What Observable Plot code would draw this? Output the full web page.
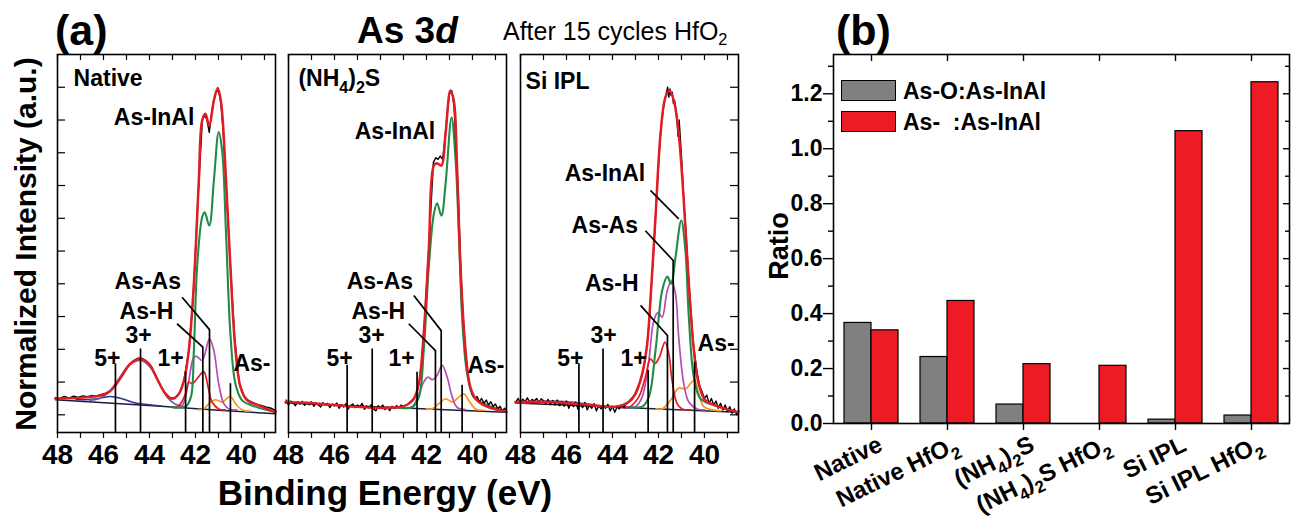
<!DOCTYPE html>
<html><head><meta charset="utf-8">
<script src="https://cdn.jsdelivr.net/npm/d3@7"></script>
<script src="https://cdn.jsdelivr.net/npm/@observablehq/plot@0.6"></script>
<style>
body{margin:0;background:#fff;}
#root{position:relative;width:1291px;height:519px;overflow:hidden;font-family:"Liberation Sans",Arial,Helvetica,sans-serif;color:#000;}
.abs{position:absolute;white-space:pre;line-height:1;}
.abs sub{font-size:0.65em;vertical-align:-0.3em;line-height:0;}
.sw{position:absolute;box-sizing:border-box;border:1.5px solid #000;}
</style></head><body><div id="root"></div>
<script>
// ---------------- DATA: panel (a) ----------------
const energyTicks = [48,47,46,45,44,43,42,41,40,39];
const energyLabels = [48,46,44,42,40];
const intensityTicks = [0,0.1,0.2,0.3,0.4,0.5,0.6,0.7,0.8,0.9,1.0];

// Native
const nativeRaw = [[48.1,0.052],[47.9,0.05],[47.7,0.056],[47.5,0.051],[47.3,0.057],[47.1,0.053],[46.9,0.058],[46.7,0.055],[46.5,0.059],[46.3,0.057],[46.1,0.062],[45.9,0.066],[45.7,0.074],[45.5,0.088],[45.3,0.108],[45.1,0.13],[44.9,0.152],[44.7,0.165],[44.5,0.173],[44.3,0.172],[44.1,0.162],[43.9,0.145],[43.7,0.116],[43.5,0.085],[43.3,0.064],[43.1,0.052],[42.9,0.05],[42.7,0.066],[42.5,0.105],[42.3,0.19],[42.1,0.36],[41.9,0.65],[41.7,0.9],[41.6,0.915],[41.5,0.9],[41.4,0.862],[41.3,0.92],[41.2,0.96],[41.1,0.985],[41.0,0.99],[40.9,0.955],[40.8,0.87],[40.7,0.75],[40.5,0.48],[40.3,0.24],[40.1,0.1],[39.9,0.058],[39.7,0.044],[39.5,0.037],[39.3,0.031],[39.1,0.028],[38.9,0.023],[38.7,0.02],[38.5,0.013]];
const nativeEnvelope = [[48.09,0.049],[46.64,0.054],[45.9,0.064],[45.55,0.084],[45.19,0.12],[44.83,0.156],[44.39,0.171],[44.03,0.156],[43.67,0.11],[43.3,0.064],[43.0,0.049],[42.72,0.064],[42.5,0.105],[42.29,0.196],[42.07,0.40],[41.86,0.705],[41.71,0.898],[41.57,0.919],[41.4,0.883],[41.2,0.96],[41.03,0.998],[40.88,0.95],[40.7,0.756],[40.48,0.45],[40.26,0.196],[40.04,0.084],[39.75,0.044],[39.25,0.029],[38.52,0.008]];
const nativeInAl = [[43.0,0.023],[42.43,0.025],[42.2,0.054],[42.07,0.196],[41.93,0.45],[41.71,0.603],[41.6,0.618],[41.4,0.578],[41.2,0.715],[40.99,0.863],[40.84,0.806],[40.67,0.552],[40.48,0.247],[40.26,0.094],[39.97,0.044],[39.39,0.025],[38.52,0.008]];
const nativeAsAs = [[42.9,0.022],[42.58,0.028],[42.29,0.105],[42.07,0.176],[41.93,0.178],[41.71,0.166],[41.39,0.232],[41.2,0.196],[40.99,0.095],[40.77,0.034],[40.55,0.018],[40.2,0.015]];
const nativeAsH = [[42.95,0.022],[42.72,0.028],[42.43,0.064],[42.29,0.1],[42.14,0.095],[41.93,0.11],[41.64,0.132],[41.45,0.084],[41.28,0.039],[40.99,0.018],[40.7,0.015]];
const nativeAsMinus = [[41.9,0.016],[41.64,0.018],[41.35,0.039],[41.13,0.046],[40.84,0.039],[40.48,0.056],[40.26,0.034],[39.97,0.015],[39.6,0.011]];
const native3p = [[46.6,0.044],[46.2,0.049],[45.77,0.069],[45.33,0.11],[44.9,0.151],[44.39,0.166],[43.96,0.145],[43.59,0.1],[43.23,0.054],[42.87,0.032],[42.5,0.025]];
const native5p = [[47.2,0.046],[46.78,0.046],[46.2,0.05],[45.7,0.056],[45.19,0.049],[44.61,0.036],[44.03,0.031],[43.5,0.027]];
const nativeBg = [[48.09,0.046],[43.5,0.026],[41.0,0.014],[38.52,0.003]];
const nativeMarkers = [[45.48,0.155],[44.39,0.201],[42.43,0.13],[41.68,0.207],[41.39,0.26],[40.48,0.095]];
const nativeLeaders = [[42.8,0.278,41.68,0.207],[42.58,0.359,41.39,0.26]];
const nativeLabels = [["Native",47.3,1.005],["As-InAl",45.55,0.886],["As-As",45.52,0.383],["As-H",45.3,0.294],["3+",45.04,0.218],["5+",46.4,0.15],["1+",43.65,0.15],["As-",40.35,0.135]];

// (NH4)2S
const nh4Raw = [[48.1,0.045],[48.0,0.03],[47.9,0.042],[47.8,0.036],[47.7,0.028],[47.6,0.04],[47.5,0.033],[47.4,0.041],[47.3,0.029],[47.2,0.038],[47.1,0.031],[47.0,0.04],[46.9,0.026],[46.8,0.036],[46.7,0.03],[46.6,0.024],[46.5,0.037],[46.4,0.03],[46.3,0.035],[46.2,0.022],[46.1,0.033],[46.0,0.027],[45.9,0.036],[45.8,0.02],[45.7,0.031],[45.6,0.024],[45.5,0.034],[45.4,0.018],[45.3,0.028],[45.2,0.033],[45.1,0.022],[45.0,0.03],[44.9,0.024],[44.8,0.035],[44.7,0.017],[44.6,0.027],[44.5,0.021],[44.4,0.031],[44.3,0.018],[44.2,0.012],[44.1,0.028],[44.0,0.02],[43.9,0.03],[43.8,0.016],[43.7,0.024],[43.6,0.013],[43.5,0.026],[43.4,0.019],[43.3,0.028],[43.2,0.022],[43.1,0.03],[43.0,0.026],[42.9,0.03],[42.8,0.032],[42.7,0.04],[42.6,0.045],[42.5,0.055],[42.4,0.075],[42.3,0.11],[42.2,0.17],[42.1,0.27],[42.0,0.39],[41.9,0.51],[41.8,0.64],[41.7,0.77],[41.6,0.785],[41.5,0.78],[41.4,0.79],[41.3,0.78],[41.2,0.84],[41.1,0.92],[41.0,0.98],[40.9,0.99],[40.8,0.94],[40.7,0.8],[40.6,0.64],[40.5,0.43],[40.4,0.29],[40.3,0.19],[40.2,0.12],[40.1,0.085],[40.0,0.06],[39.9,0.05],[39.8,0.056],[39.7,0.04],[39.6,0.05],[39.5,0.035],[39.4,0.045],[39.3,0.03],[39.2,0.04],[39.1,0.025],[39.0,0.033],[38.9,0.018],[38.8,0.026],[38.7,0.012],[38.6,0.02],[38.5,0.008]];
const nh4Envelope = [[48.13,0.039],[46.68,0.034],[45.23,0.025],[43.78,0.021],[43.06,0.025],[42.77,0.034],[42.55,0.049],[42.33,0.095],[42.12,0.247],[41.9,0.502],[41.68,0.761],[41.54,0.768],[41.35,0.761],[41.17,0.858],[40.96,0.99],[40.81,0.959],[40.67,0.756],[40.52,0.451],[40.3,0.196],[40.09,0.084],[39.8,0.044],[39.29,0.023],[38.57,0.011]];
const nh4InAl = [[43.2,0.022],[42.62,0.023],[42.33,0.054],[42.12,0.196],[41.9,0.451],[41.68,0.613],[41.54,0.646],[41.35,0.608],[41.17,0.705],[40.91,0.908],[40.74,0.786],[40.59,0.552],[40.45,0.298],[40.23,0.125],[39.94,0.054],[39.43,0.032],[38.57,0.011]];
const nh4AsAs = [[43.0,0.022],[42.62,0.025],[42.33,0.064],[42.12,0.1],[41.93,0.115],[41.75,0.107],[41.54,0.12],[41.32,0.151],[41.1,0.115],[40.88,0.054],[40.67,0.023],[40.3,0.016]];
const nh4AsMinus = [[42.0,0.019],[41.75,0.018],[41.46,0.034],[41.17,0.049],[40.88,0.039],[40.67,0.049],[40.38,0.064],[40.16,0.044],[39.87,0.018],[39.5,0.014]];
const nh4Bg = [[48.13,0.036],[38.57,0.008]];
const nh4Markers = [[45.45,0.151],[44.36,0.201],[42.41,0.13],[41.61,0.196],[41.36,0.257],[40.45,0.09]];
const nh4Leaders = [[42.77,0.278,41.61,0.196],[42.55,0.364,41.36,0.257]];
const nh4Labels = [["(NH_4)_2S",47.57,1.005],["As-InAl",45.12,0.843],["As-As",45.47,0.383],["As-H",45.26,0.294],["3+",44.96,0.218],["5+",46.35,0.15],["1+",43.65,0.15],["As-",40.22,0.129]];

// Si IPL
const siplRaw = [[48.2,0.04],[48.1,0.05],[48.0,0.035],[47.9,0.048],[47.8,0.04],[47.7,0.052],[47.6,0.038],[47.5,0.047],[47.4,0.042],[47.3,0.05],[47.2,0.037],[47.1,0.049],[47.0,0.043],[46.9,0.034],[46.8,0.047],[46.7,0.031],[46.6,0.044],[46.5,0.03],[46.4,0.045],[46.3,0.028],[46.2,0.04],[46.1,0.026],[46.0,0.042],[45.9,0.02],[45.8,0.036],[45.7,0.025],[45.6,0.039],[45.5,0.017],[45.4,0.033],[45.3,0.022],[45.2,0.038],[45.1,0.015],[45.0,0.03],[44.9,0.02],[44.8,0.034],[44.7,0.012],[44.6,0.028],[44.5,0.018],[44.4,0.03],[44.3,0.02],[44.2,0.032],[44.1,0.012],[44.0,0.026],[43.9,0.008],[43.8,0.024],[43.7,0.018],[43.6,0.03],[43.5,0.022],[43.4,0.035],[43.3,0.04],[43.2,0.048],[43.1,0.055],[43.0,0.068],[42.9,0.085],[42.8,0.1],[42.7,0.125],[42.6,0.16],[42.5,0.21],[42.4,0.29],[42.3,0.4],[42.2,0.51],[42.1,0.64],[42.0,0.76],[41.9,0.87],[41.8,0.93],[41.7,0.97],[41.6,1.0],[41.55,0.97],[41.5,0.995],[41.45,0.975],[41.4,0.985],[41.35,0.95],[41.3,0.96],[41.2,0.91],[41.15,0.85],[41.1,0.9],[41.0,0.79],[40.9,0.66],[40.8,0.55],[40.7,0.43],[40.6,0.33],[40.5,0.23],[40.4,0.17],[40.3,0.12],[40.2,0.085],[40.1,0.07],[40.0,0.05],[39.9,0.06],[39.8,0.035],[39.7,0.05],[39.6,0.03],[39.5,0.042],[39.4,0.02],[39.3,0.035],[39.2,0.015],[39.1,0.03],[39.0,0.01],[38.9,0.025],[38.8,0.005],[38.7,0.018],[38.6,0.0],[38.5,0.012]];
const siplEnvelope = [[48.22,0.039],[46.77,0.039],[45.32,0.032],[43.87,0.025],[43.29,0.039],[43.0,0.064],[42.71,0.125],[42.49,0.217],[42.35,0.349],[42.13,0.603],[41.91,0.858],[41.7,0.969],[41.52,0.99],[41.33,0.959],[41.12,0.858],[40.9,0.654],[40.68,0.4],[40.46,0.196],[40.25,0.095],[39.96,0.044],[39.38,0.025],[38.54,0.008]];
const siplInAl = [[43.2,0.024],[42.71,0.025],[42.42,0.054],[42.13,0.196],[41.84,0.379],[41.62,0.422],[41.45,0.4],[41.26,0.481],[41.01,0.593],[40.83,0.502],[40.68,0.298],[40.46,0.115],[40.17,0.049],[39.52,0.028],[38.54,0.008]];
const siplAsAs = [[43.4,0.024],[43.0,0.025],[42.71,0.054],[42.42,0.166],[42.2,0.288],[42.01,0.313],[41.84,0.298],[41.62,0.379],[41.43,0.41],[41.26,0.369],[41.12,0.237],[40.9,0.095],[40.68,0.039],[40.32,0.018],[40.0,0.015]];
const siplAsH = [[43.6,0.024],[43.29,0.023],[42.86,0.054],[42.57,0.115],[42.35,0.171],[42.16,0.156],[41.96,0.176],[41.72,0.222],[41.55,0.186],[41.41,0.105],[41.19,0.034],[40.97,0.018],[40.6,0.015]];
const siplAsMinus = [[42.1,0.019],[41.84,0.018],[41.48,0.044],[41.12,0.082],[40.83,0.079],[40.61,0.095],[40.43,0.107],[40.25,0.064],[40.03,0.025],[39.67,0.015],[39.3,0.012]];
const sipl3p = [[48.1,0.036],[47.78,0.037],[46.77,0.042],[45.75,0.039],[44.59,0.028],[43.43,0.021],[43.0,0.02]];
const siplBg = [[48.22,0.036],[38.54,0.008]];
const siplMarkers = [[45.46,0.156],[44.41,0.201],[42.45,0.135],[41.61,0.242],[41.36,0.471],[40.43,0.161]];
const siplLeaders = [[42.78,0.334,41.61,0.242],[42.57,0.562,41.36,0.471],[42.35,0.685,41.12,0.598]];
const siplLabels = [["Si IPL",47.78,0.996],["As-InAl",46.08,0.715],["As-As",45.78,0.556],["As-H",45.2,0.379],["3+",44.96,0.218],["5+",46.4,0.15],["1+",43.65,0.15],["As-",40.3,0.196]];

// ---------------- DATA: panel (b) ----------------
const categories = ["Native","Native HfO_2","(NH_4)_2S","(NH_4)_2S HfO_2","Si IPL","Si IPL HfO_2"];
const asOxideRatio = [0.366,0.242,0.069,0,0.014,0.029];
const asMinusRatio = [0.339,0.446,0.216,0.21,1.064,1.242];
const ratioTicks = [0,0.2,0.4,0.6,0.8,1.0,1.2];
const ratioMinorTicks = [0.1,0.3,0.5,0.7,0.9,1.1,1.3];
const seriesNames = ["As-O:As-InAl","As-  :As-InAl"];

// ---------------- helpers ----------------
const root = document.getElementById("root");
const FONT = '"Liberation Sans", Arial, Helvetica, sans-serif';
const SVGNS = "http://www.w3.org/2000/svg";

function applySubscripts(svg){
  svg.querySelectorAll("text").forEach(t=>{
    if (t.children.length) return;
    const s = t.textContent;
    if (!s.includes("_")) return;
    const fs = parseFloat(getComputedStyle(t).fontSize) || 20;
    t.textContent = "";
    s.split(/_(.)/).forEach((p,i)=>{
      if (!p) return;
      const ts = document.createElementNS(SVGNS,"tspan");
      ts.textContent = p;
      if (i % 2 === 1){ ts.setAttribute("dy", 0.3*fs); ts.setAttribute("font-size", 0.7*fs); }
      else if (i > 0) ts.setAttribute("dy", -0.3*fs);
      t.appendChild(ts);
    });
  });
}
function place(svg, left, top){
  svg.style.position = "absolute";
  svg.style.left = left + "px";
  svg.style.top = top + "px";
  svg.style.maxWidth = "none";
  root.appendChild(svg);
  applySubscripts(svg);
}
function addText(html, left, baseline, fs, weight, extra){
  const d = document.createElement("div");
  d.className = "abs";
  d.innerHTML = html;
  d.style.left = left + "px";
  d.style.top = (baseline - 0.8465*fs) + "px";
  d.style.fontSize = fs + "px";
  d.style.fontWeight = weight;
  if (extra) Object.assign(d.style, extra);
  root.appendChild(d);
  return d;
}
function addRotated(text, cx, cy, fs){
  const d = document.createElement("div");
  d.className = "abs";
  d.textContent = text;
  Object.assign(d.style, {left: cx+"px", top: cy+"px", fontSize: fs+"px", fontWeight:"bold",
    transform:"translate(-50%,-50%) rotate(-90deg)"});
  root.appendChild(d);
}

// ---------------- panel (a) subplots ----------------
const FW = 218, FH = 378;
const XD = [48, 38.52], YD = [-0.054, 1.1];
const ML = 30, MR = 30, MT = 10, MB = 50;
const C = {raw:"#000000", env:"#e31b23", inal:"#1f8d46", asas:"#b44db6", ash:"#e31b23", asm:"#f7941e", p3:"#6e5fae", p5:"#2e3192", bg:"#1c1c3c"};
const xy = {x: d=>d[0], y: d=>d[1]};

function subplot(cfg){
  const line = (data, stroke, w, curve) => data ? Plot.line(data, {...xy, stroke, strokeWidth: w, curve: curve || "catmull-rom"}) : null;
  const marks = [
    line(cfg.bg, C.bg, 1.5, "linear"),
    line(cfg.p5, C.p5, 1.5),
    line(cfg.p3, C.p3, 1.7),
    line(cfg.asm, C.asm, 1.7),
    line(cfg.asas, C.asas, 1.7),
    line(cfg.ash, C.ash, 1.7),
    line(cfg.inal, C.inal, 2.1),
    line(cfg.raw, C.raw, 1.4, "linear"),
    line(cfg.env, C.env, 2.5),
    Plot.ruleX(cfg.markers, {x: d=>d[0], y1: d=>d[1], y2: YD[0], stroke:"#000", strokeWidth:1.7}),
    Plot.link(cfg.leaders, {x1:d=>d[0], y1:d=>d[1], x2:d=>d[2], y2:d=>d[3], stroke:"#000", strokeWidth:1.7}),
    Plot.text(cfg.labels, {x:d=>d[1], y:d=>d[2], text:d=>d[0], textAnchor:"start", lineAnchor:"bottom", fontSize:23, fontWeight:"bold"}),
    // ticks
    Plot.ruleX(energyTicks, {x:d=>d, insetBottom: FH-6, stroke:"#000", strokeWidth:1.2}),
    Plot.ruleX(energyTicks, {x:d=>d, insetTop: FH, insetBottom: -6, stroke:"#000", strokeWidth:1.2}),
    cfg.left ? Plot.ruleY(intensityTicks, {y:d=>d, insetRight: FW-8, stroke:"#000", strokeWidth:1.2}) : null,
    cfg.right ? Plot.ruleY(intensityTicks, {y:d=>d, insetLeft: FW-8, stroke:"#000", strokeWidth:1.2}) : null,
    Plot.axisX({ticks: energyLabels, tickSize:0, tickPadding:12, fontSize:28, fontWeight:"bold", label:null}),
    Plot.frame({stroke:"#000", strokeWidth:1.6})
  ].filter(Boolean);
  const svg = Plot.plot({
    width: ML+FW+MR, height: MT+FH+MB,
    marginLeft: ML, marginRight: MR, marginTop: MT, marginBottom: MB,
    x: {domain: XD, axis: null},
    y: {domain: YD, axis: null},
    style: {background:"transparent", overflow:"visible", fontFamily: FONT},
    marks
  });
  place(svg, cfg.frameLeft - ML, 54 - MT);
}

subplot({frameLeft:57, left:true, raw:nativeRaw, env:nativeEnvelope, inal:nativeInAl, asas:nativeAsAs, ash:nativeAsH, asm:nativeAsMinus, p3:native3p, p5:native5p, bg:nativeBg, markers:nativeMarkers, leaders:nativeLeaders, labels:nativeLabels});
subplot({frameLeft:288, raw:nh4Raw, env:nh4Envelope, inal:nh4InAl, asas:nh4AsAs, asm:nh4AsMinus, bg:nh4Bg, markers:nh4Markers, leaders:nh4Leaders, labels:nh4Labels});
subplot({frameLeft:520, right:true, raw:siplRaw, env:siplEnvelope, inal:siplInAl, asas:siplAsAs, ash:siplAsH, asm:siplAsMinus, p3:sipl3p, bg:siplBg, markers:siplMarkers, leaders:siplLeaders, labels:siplLabels});

// ---------------- panel (b) ----------------
const BW = 456, BH = 369;
const bML = 60, bMR = 4, bMT = 10, bMB = 95;
const table = categories.map((c,i)=>({cat:c, ox:asOxideRatio[i], mi:asMinusRatio[i]}));
const svgB = Plot.plot({
  width: bML+BW+bMR, height: bMT+BH+bMB,
  marginLeft: bML, marginRight: bMR, marginTop: bMT, marginBottom: bMB,
  x: {domain: categories, padding: 0, axis: null},
  y: {domain: [0, 1.343], axis: null},
  style: {background:"transparent", overflow:"visible", fontFamily: FONT},
  marks: [
    Plot.barY(table, {x:"cat", y:"ox", fill:"#808080", stroke:"#000", strokeWidth:1.2, insetLeft:11, insetRight:38}),
    Plot.barY(table, {x:"cat", y:"mi", fill:"#ed1c24", stroke:"#000", strokeWidth:1.2, insetLeft:38, insetRight:11}),
    Plot.ruleY(ratioTicks, {y:d=>d, insetLeft:-10, insetRight:BW, stroke:"#000", strokeWidth:1.4}),
    Plot.ruleY(ratioMinorTicks, {y:d=>d, insetLeft:-5, insetRight:BW, stroke:"#000", strokeWidth:1.4}),
    Plot.ruleY(ratioTicks, {y:d=>d, insetLeft:BW-6, stroke:"#000", strokeWidth:1.4}),
    Plot.ruleY(ratioMinorTicks, {y:d=>d, insetLeft:BW-4, stroke:"#000", strokeWidth:1.4}),
    Plot.ruleX(categories, {x:d=>d, insetBottom:BH-7, stroke:"#000", strokeWidth:1.4}),
    Plot.ruleX(categories, {x:d=>d, insetTop:BH, insetBottom:-7, stroke:"#000", strokeWidth:1.4}),
    Plot.text(ratioTicks, {y:d=>d, text:d=>d.toFixed(1), frameAnchor:"left", textAnchor:"end", dx:-11, fontSize:23, fontWeight:"bold"}),
    Plot.text(categories, {x:d=>d, text:d=>d, frameAnchor:"bottom", textAnchor:"end", lineAnchor:"top", rotate:-26, dx:5, dy:11, fontSize:24, fontWeight:"bold"}),
    Plot.frame({stroke:"#000", strokeWidth:1.6})
  ]
});
place(svgB, 833 - bML, 54 - bMT);

// legend (b)
const sw1 = document.createElement("div"); sw1.className="sw";
Object.assign(sw1.style,{left:"841px",top:"80px",width:"55px",height:"21px",background:"#808080"}); root.appendChild(sw1);
const sw2 = document.createElement("div"); sw2.className="sw";
Object.assign(sw2.style,{left:"841px",top:"111px",width:"55px",height:"21px",background:"#ed1c24"}); root.appendChild(sw2);
addText(seriesNames[0], 903, 99, 23, "bold");
addText(seriesNames[1], 903, 130, 23, "bold");

// titles & axis titles
addText("(a)", 55, 45, 43, "bold");
addText("(b)", 836, 45, 43, "bold");
addText("As 3<i>d</i>", 357, 43, 37, "bold");
addText("After 15 cycles HfO<sub>2</sub>", 503, 40, 25, "normal");
addText("Binding Energy (eV)", 85, 505, 35, "bold", {width:"600px", textAlign:"center"});
addRotated("Normalized Intensity (a.u.)", 26, 244, 30);
addRotated("Ratio", 779, 246, 27);
</script></body></html>
